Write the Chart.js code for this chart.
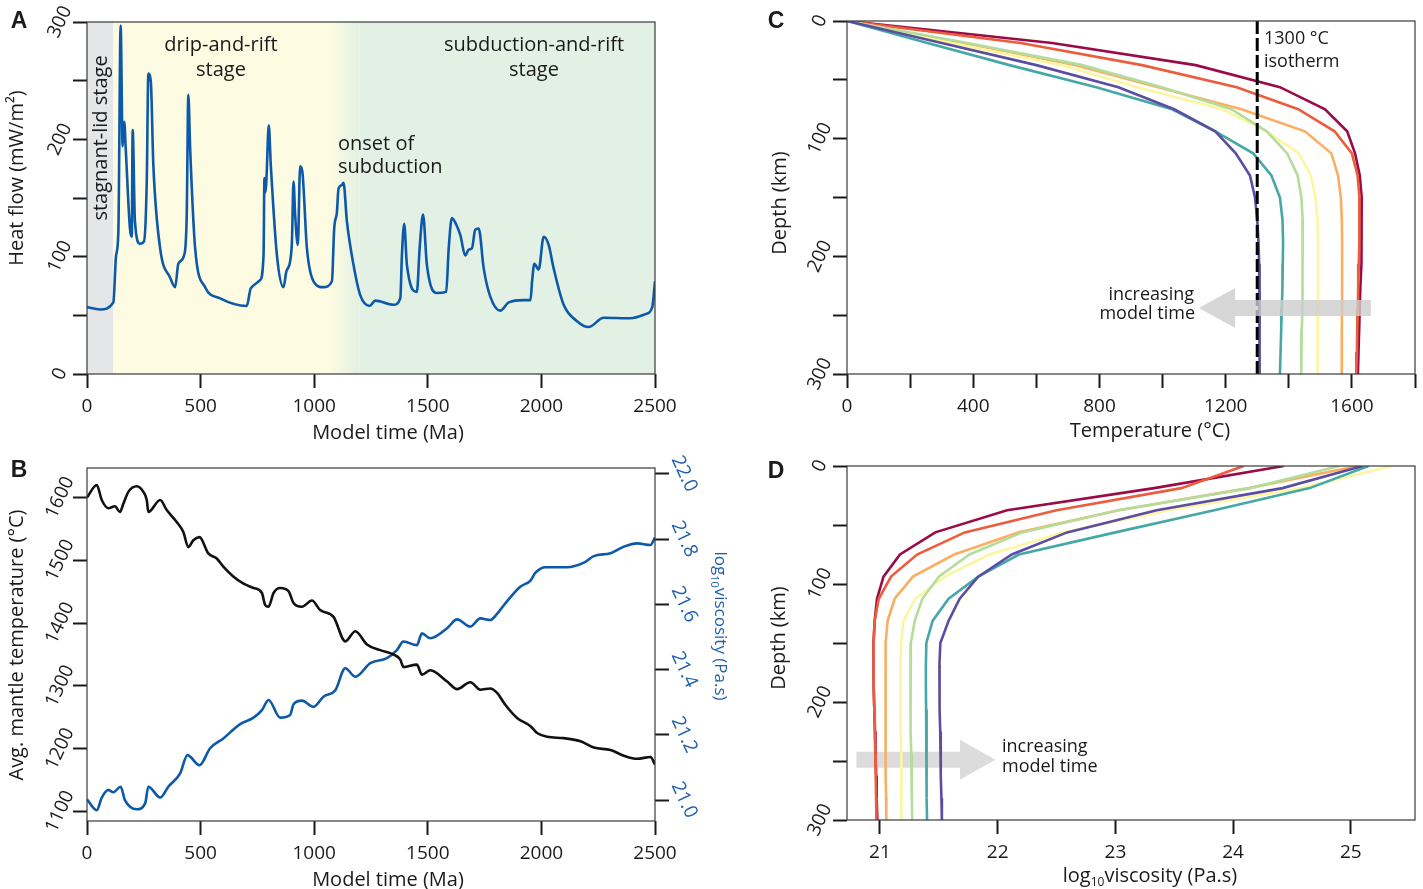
<!DOCTYPE html>
<html>
<head>
<meta charset="utf-8">
<script src="https://cdn.jsdelivr.net/npm/chart.js@4.4.1/dist/chart.umd.min.js"></script>
<style>
  html, body { margin: 0; padding: 0; background: #fff; }
  #wrap { position: relative; width: 1423px; height: 889px; overflow: hidden; }
  canvas { position: absolute; left: 0; top: 0; }
</style>
</head>
<body>
<div id="wrap">
  <canvas id="chartA" width="1423" height="889"></canvas>
  <canvas id="chartB" width="1423" height="889"></canvas>
  <canvas id="chartC" width="1423" height="889"></canvas>
  <canvas id="chartD" width="1423" height="889"></canvas>
</div>
<script>
// ---- panel A: heat flow through model time
var heatTime = [0, 57, 116, 128, 138, 148, 157, 164, 170, 189, 197, 201, 211, 233, 251, 263, 270, 281, 292, 322,
  366, 388, 402, 427, 439, 446, 454, 476, 520, 586, 703, 721, 762, 777, 781, 786, 790, 800, 809, 836,
  865, 877, 894, 902, 909, 916, 928, 938, 948, 968, 997, 1041, 1078, 1088, 1100, 1107, 1122, 1129, 1144, 1173,
  1203, 1244, 1269, 1349, 1379, 1386, 1396, 1408, 1452, 1464, 1479, 1496, 1540, 1581, 1592, 1606, 1626, 1643, 1665, 1680,
  1694, 1709, 1724, 1746, 1775, 1819, 1856, 1922, 1952, 1959, 1969, 1988, 2010, 2032, 2054, 2098, 2157, 2208, 2274, 2392,
  2458, 2488, 2500];
var heatFlow = [57, 55, 61, 101, 121, 297, 194, 215, 194, 124, 117, 208, 130, 111, 113, 164, 256, 249, 178, 107,
  82, 74, 94, 101, 136, 238, 192, 107, 74, 64.5, 58, 73, 80, 101, 167, 155, 167, 212, 178, 101,
  74, 87, 96, 113, 164, 136, 110, 177, 172, 107, 79, 74, 79, 124, 138, 158, 161, 163, 130, 93,
  67, 58, 62.5, 59, 64.5, 101, 128, 93, 70, 107, 136, 93, 69, 70, 107, 133, 127, 118.5, 101, 106,
  107, 123, 124, 90, 66, 54, 61, 63, 63, 79, 94, 89, 117, 110, 90, 59, 45, 40, 48, 47.5,
  51, 57, 79];
var stageEdges = [0, 115, 1070, 1200, 2500];
var timeTicks = [0, 500, 1000, 1500, 2000, 2500];
var heatTicks = [0, 50, 100, 150, 200, 250, 300];
var heatLabels = [0, 100, 200, 300];

// ---- panel B: mantle temperature and viscosity
var tempTime = [0, 43, 65, 94, 123, 145, 160, 182, 219, 248, 263, 270, 322, 351, 395, 424, 446, 468, 495, 534,
  571, 600, 645, 689, 733, 770, 784, 799, 821, 850, 887, 909, 946, 990, 1026, 1085, 1137, 1181, 1232, 1291,
  1350, 1379, 1393, 1452, 1474, 1511, 1585, 1629, 1687, 1731, 1775, 1805, 1841, 1893, 1952, 1981, 2025, 2098, 2172, 2231,
  2304, 2363, 2422, 2480, 2500];
var mantleTemp = [1600, 1620, 1596, 1583, 1586, 1577, 1590, 1609, 1618, 1609, 1596, 1577, 1596, 1580, 1561, 1545, 1521, 1532, 1537, 1511,
  1503, 1490, 1474, 1463, 1456, 1448, 1429, 1426, 1448, 1456, 1451, 1432, 1426, 1436, 1421, 1410, 1371, 1387, 1366, 1357,
  1350, 1342, 1330, 1334, 1318, 1325, 1307, 1295, 1306, 1294, 1296, 1289, 1270, 1249, 1236, 1225, 1219, 1217, 1212, 1202,
  1198, 1189, 1184, 1187, 1175];
var viscTime = [0, 43, 65, 94, 116, 148, 167, 219, 256, 270, 322, 358, 410, 442, 495, 542, 600, 674, 733, 770,
  799, 850, 894, 909, 946, 997, 1041, 1093, 1137, 1181, 1247, 1320, 1364, 1393, 1452, 1474, 1511, 1585, 1629, 1687,
  1731, 1775, 1805, 1841, 1907, 1952, 1974, 2018, 2113, 2187, 2231, 2304, 2363, 2422, 2480, 2500];
var logViscosity = [21.002, 20.969, 21.008, 21.031, 21.024, 21.041, 21.0, 20.972, 20.99, 21.041, 21.008, 21.041, 21.082, 21.138, 21.107, 21.159, 21.189, 21.233, 21.253, 21.276,
  21.307, 21.253, 21.261, 21.294, 21.305, 21.286, 21.317, 21.337, 21.404, 21.378, 21.42, 21.435, 21.46, 21.486, 21.475, 21.511, 21.496, 21.527, 21.554, 21.532,
  21.557, 21.552, 21.571, 21.603, 21.654, 21.673, 21.697, 21.714, 21.714, 21.728, 21.748, 21.757, 21.777, 21.787, 21.782, 21.805];
var tempTicks = [1100, 1200, 1300, 1400, 1500, 1600];
var viscTicks = [21.0, 21.2, 21.4, 21.6, 21.8, 22.0];

// ---- panels C and D: profiles at successive model times (earliest first)
var profileDepth = [0, 18.75, 37.5, 56.25, 75, 93.75, 112.5, 131.25, 150, 168.75, 187.5, 206.25, 225, 243.75, 262.5, 281.25, 300];
var profileColors = ['#9b0b48', '#ec5c3d', '#fbad60', '#fcf6a2', '#b4dd9c', '#45a8a6', '#5b4ea2'];
var tempProfiles = [
  [0, 650, 1105, 1372, 1515, 1585, 1610, 1625, 1631, 1632, 1630, 1629, 1627, 1625, 1623, 1621, 1619],
  [0, 550, 935, 1235, 1430, 1545, 1600, 1618, 1624, 1624, 1623, 1622, 1620, 1619, 1617, 1616, 1614],
  [0, 370, 725, 986, 1250, 1451, 1535, 1556, 1565, 1568, 1569, 1569, 1569, 1569, 1568, 1568, 1568],
  [0, 330, 680, 920, 1190, 1330, 1432, 1470, 1485, 1491, 1493, 1493, 1493, 1492, 1492, 1491, 1491],
  [0, 382, 745, 998, 1218, 1330, 1395, 1428, 1440, 1444, 1445, 1444, 1443, 1442, 1441, 1440, 1439],
  [0, 255, 515, 790, 1030, 1167, 1287, 1345, 1372, 1380, 1382, 1381, 1380, 1378, 1376, 1374, 1372],
  [0, 300, 600, 860, 1037, 1167, 1232, 1277, 1293, 1300, 1304, 1306, 1307, 1308, 1308, 1308, 1307]
];
var viscProfiles = [
  [24.43, 23.33, 22.08, 21.47, 21.17, 21.03, 20.975, 20.955, 20.945, 20.945, 20.948, 20.952, 20.958, 20.962, 20.968, 20.972, 20.978],
  [24.09, 23.56, 22.5, 21.72, 21.315, 21.094, 20.99, 20.955, 20.946, 20.946, 20.948, 20.952, 20.956, 20.96, 20.964, 20.967, 20.97],
  [25.06, 24.13, 23.03, 22.18, 21.63, 21.28, 21.125, 21.065, 21.048, 21.046, 21.046, 21.047, 21.048, 21.05, 21.051, 21.052, 21.054],
  [25.35, 24.58, 23.45, 22.56, 21.93, 21.55, 21.3, 21.2, 21.18, 21.175, 21.175, 21.177, 21.178, 21.18, 21.181, 21.182, 21.183],
  [24.9, 24.15, 23.02, 22.21, 21.76, 21.5, 21.36, 21.295, 21.262, 21.258, 21.258, 21.26, 21.263, 21.266, 21.269, 21.272, 21.274],
  [25.15, 24.65, 23.84, 23.0, 22.18, 21.835, 21.583, 21.447, 21.394, 21.39, 21.39, 21.392, 21.394, 21.396, 21.397, 21.398, 21.4],
  [25.1, 24.42, 23.35, 22.59, 22.12, 21.835, 21.677, 21.583, 21.513, 21.505, 21.505, 21.508, 21.512, 21.515, 21.518, 21.522, 21.526]
];
var isothermTemp = [1300, 1300];
var isothermDepth = [0, 300];
var depthTicks = [0, 50, 100, 150, 200, 250, 300];
var depthLabels = [0, 100, 200, 300];
var tempAxisTicks = [0, 200, 400, 600, 800, 1000, 1200, 1400, 1600, 1800];
var tempAxisLabels = [0, 400, 800, 1200, 1600];
var viscAxisTicks = [21, 22, 23, 24, 25];

var W = 1423, H = 889;
var XAXIS_H = 60;
var FONT = "'Open Sans', sans-serif";
var INK = '#1a1a1a';
var BLUE = '#0b59a8';
var LABEL_BLUE = '#1d5fab';

Chart.defaults.font.family = FONT;
Chart.defaults.font.size = 19;
Chart.defaults.color = INK;

function pts(xs, ys) {
  return xs.map(function (x, i) { return { x: x, y: ys[i] }; });
}

function setTicks(values) {
  return function (scale) {
    scale.ticks = values.map(function (v) { return { value: v }; });
  };
}

function xAxis(min, max, ticks, labels) {
  return {
    type: 'linear', min: min, max: max,
    afterBuildTicks: setTicks(ticks),
    afterFit: function (s) { s.height = XAXIS_H; },
    border: { display: false },
    grid: { drawOnChartArea: false, tickLength: 14, tickWidth: 2, tickColor: INK },
    ticks: {
      autoSkip: false, maxRotation: 0, minRotation: 0, padding: 7, color: INK,
      callback: function (v) { return labels.indexOf(v) >= 0 ? String(v) : ''; }
    }
  };
}

function yAxis(min, max, ticks, position, reverse) {
  return {
    type: 'linear', position: position || 'left', min: min, max: max, reverse: !!reverse,
    afterBuildTicks: setTicks(ticks),
    afterFit: function (s) { s.width = 30; },
    border: { display: false },
    grid: { drawOnChartArea: false, tickLength: 14, tickWidth: 2, tickColor: INK },
    ticks: { display: false }
  };
}

function options(area, scales, rightW) {
  return {
    responsive: false, animation: false, events: [],
    layout: { padding: { left: area[0] - 30, top: area[1], right: W - area[2] - (rightW || 0), bottom: H - area[3] - XAXIS_H } },
    plugins: { legend: { display: false }, tooltip: { enabled: false } },
    scales: scales
  };
}

function txt(ctx, s, x, y, o) {
  o = o || {};
  ctx.save();
  ctx.translate(x, y);
  if (o.rot) ctx.rotate(o.rot * Math.PI / 180);
  ctx.font = (o.weight || 'normal') + ' ' + (o.size || 20) + 'px ' + (o.family || FONT);
  ctx.fillStyle = o.color || INK;
  ctx.textAlign = o.align || 'center';
  ctx.textBaseline = 'middle';
  ctx.fillText(s, 0, 0);
  ctx.restore();
}

// text with a subscript part, e.g. log10
function richTxt(ctx, parts, x, y, o) {
  o = o || {};
  var size = o.size || 20;
  var big = size + 'px ' + FONT, small = Math.round(size * 0.62) + 'px ' + FONT;
  ctx.save();
  ctx.translate(x, y);
  if (o.rot) ctx.rotate(o.rot * Math.PI / 180);
  ctx.fillStyle = o.color || INK;
  ctx.textBaseline = 'middle';
  ctx.textAlign = 'left';
  var total = 0;
  parts.forEach(function (p) { ctx.font = p[1] ? small : big; total += ctx.measureText(p[0]).width; });
  var cx = -total / 2;
  parts.forEach(function (p) {
    ctx.font = p[1] ? small : big;
    ctx.fillText(p[0], cx, p[1] ? size * 0.32 : 0);
    cx += ctx.measureText(p[0]).width;
  });
  ctx.restore();
}

function yLabels(chart, id, values, fmt, x, rot, color) {
  var sc = chart.scales[id];
  values.forEach(function (v) {
    txt(chart.ctx, fmt(v), x, sc.getPixelForValue(v), { rot: rot, color: color, size: 19 });
  });
}

function frame(chart) {
  var a = chart.chartArea, ctx = chart.ctx;
  ctx.save();
  ctx.strokeStyle = '#3a3a3a';
  ctx.lineWidth = 1.2;
  ctx.strokeRect(a.left, a.top, a.right - a.left, a.bottom - a.top);
  ctx.restore();
}

function arrow(ctx, xTail, xBase, xTip, y, shaftHalf, headHalf, fill) {
  ctx.save();
  ctx.fillStyle = fill;
  ctx.beginPath();
  ctx.moveTo(xTail, y - shaftHalf);
  ctx.lineTo(xBase, y - shaftHalf);
  ctx.lineTo(xBase, y - headHalf);
  ctx.lineTo(xTip, y);
  ctx.lineTo(xBase, y + headHalf);
  ctx.lineTo(xBase, y + shaftHalf);
  ctx.lineTo(xTail, y + shaftHalf);
  ctx.closePath();
  ctx.fill();
  ctx.restore();
}

function letter(ctx, s, x, y) {
  txt(ctx, s, x, y, { size: 23, weight: 'bold', family: "'Liberation Sans', Arial, sans-serif" });
}

// ---------------- Panel A
new Chart(document.getElementById('chartA'), {
  type: 'line',
  data: {
    datasets: [{
      data: pts(heatTime, heatFlow), borderColor: BLUE, borderWidth: 2.6,
      pointRadius: 0, cubicInterpolationMode: 'monotone', fill: false
    }]
  },
  options: options([87, 22, 655, 374], {
    x: xAxis(0, 2500, timeTicks, timeTicks),
    y: yAxis(0, 300, heatTicks)
  }),
  plugins: [{
    id: 'stagesA',
    beforeDatasetsDraw: function (chart) {
      var ctx = chart.ctx, a = chart.chartArea, xs = chart.scales.x;
      var px = stageEdges.map(function (v) { return xs.getPixelForValue(v); });
      var h = a.bottom - a.top;
      ctx.save();
      ctx.fillStyle = '#e5e6e8';
      ctx.fillRect(px[0], a.top, px[1] - px[0], h);
      ctx.fillStyle = '#fdfbe1';
      ctx.fillRect(px[1], a.top, px[2] - px[1], h);
      var g = ctx.createLinearGradient(px[2], 0, px[3], 0);
      g.addColorStop(0, '#fdfbe1');
      g.addColorStop(1, '#e3f0e4');
      ctx.fillStyle = g;
      ctx.fillRect(px[2], a.top, px[3] - px[2], h);
      ctx.fillStyle = '#e3f0e4';
      ctx.fillRect(px[3], a.top, px[4] - px[3], h);
      ctx.restore();
    },
    afterDraw: function (chart) {
      var ctx = chart.ctx;
      frame(chart);
      letter(ctx, 'A', 19, 22);
      yLabels(chart, 'y', heatLabels, String, 60, -65);
      txt(ctx, 'Heat flow (mW/m\u00b2)', 17, 178, { rot: -90 });
      txt(ctx, 'Model time (Ma)', 388, 433);
      txt(ctx, 'stagnant-lid stage', 101, 138, { rot: -90 });
      txt(ctx, 'drip-and-rift', 221, 45);
      txt(ctx, 'stage', 221, 70);
      txt(ctx, 'onset of', 338, 144, { align: 'left' });
      txt(ctx, 'subduction', 338, 167, { align: 'left' });
      txt(ctx, 'subduction-and-rift', 534, 45);
      txt(ctx, 'stage', 534, 70);
    }
  }]
});

// ---------------- Panel B
new Chart(document.getElementById('chartB'), {
  type: 'line',
  data: {
    datasets: [
      { data: pts(tempTime, mantleTemp), yAxisID: 'y', borderColor: '#111', borderWidth: 2.6,
        pointRadius: 0, cubicInterpolationMode: 'monotone', fill: false },
      { data: pts(viscTime, logViscosity), yAxisID: 'y1', borderColor: BLUE, borderWidth: 2.6,
        pointRadius: 0, cubicInterpolationMode: 'monotone', fill: false }
    ]
  },
  options: options([87, 468, 655, 821], {
    x: xAxis(0, 2500, timeTicks, timeTicks),
    y: yAxis(1085, 1647, tempTicks),
    y1: yAxis(20.936, 22.018, viscTicks, 'right')
  }, 30),
  plugins: [{
    id: 'decorB',
    afterDraw: function (chart) {
      var ctx = chart.ctx;
      frame(chart);
      letter(ctx, 'B', 19, 471);
      yLabels(chart, 'y', tempTicks, String, 60, -65);
      yLabels(chart, 'y1', viscTicks, function (v) { return v.toFixed(1); }, 684, 65, LABEL_BLUE);
      txt(ctx, 'Avg. mantle temperature (\u00b0C)', 17, 645, { rot: -90 });
      txt(ctx, 'Model time (Ma)', 388, 880);
      richTxt(ctx, [['log', 0], ['10', 1], ['viscosity (Pa.s)', 0]], 720, 626, { rot: 90, size: 17, color: LABEL_BLUE });
    }
  }]
});

// ---------------- Panel C
var cSets = tempProfiles.map(function (p, i) {
  return { data: pts(p, profileDepth), borderColor: profileColors[i], borderWidth: 2.6,
    pointRadius: 0, fill: false, tension: 0, order: 10 - i };
});
cSets.push({ data: pts(isothermTemp, isothermDepth), borderColor: '#000', borderWidth: 3,
  borderDash: [13, 4], pointRadius: 0, fill: false, order: 0 });

new Chart(document.getElementById('chartC'), {
  type: 'line',
  data: { datasets: cSets },
  options: options([847, 21, 1415, 374], {
    x: xAxis(0, 1800, tempAxisTicks, tempAxisLabels),
    y: yAxis(0, 300, depthTicks, 'left', true)
  }),
  plugins: [{
    id: 'decorC',
    afterDatasetsDraw: function (chart) {
      var xs = chart.scales.x, ys = chart.scales.y;
      arrow(chart.ctx, xs.getPixelForValue(1660), xs.getPixelForValue(1230), xs.getPixelForValue(1115),
        ys.getPixelForValue(244), 8, 20, 'rgba(205,205,205,0.8)');
    },
    afterDraw: function (chart) {
      var ctx = chart.ctx;
      frame(chart);
      letter(ctx, 'C', 776, 22);
      yLabels(chart, 'y', depthLabels, String, 820, -65);
      txt(ctx, 'Depth (km)', 780, 203, { rot: -90 });
      txt(ctx, 'Temperature (\u00b0C)', 1150, 431);
      txt(ctx, '1300 \u00b0C', 1264, 39, { align: 'left', size: 18 });
      txt(ctx, 'isotherm', 1264, 62, { align: 'left', size: 18 });
      txt(ctx, 'increasing', 1194, 295, { align: 'right', size: 18 });
      txt(ctx, 'model time', 1195, 314, { align: 'right', size: 18 });
    }
  }]
});

// ---------------- Panel D
var dSets = viscProfiles.map(function (p, i) {
  return { data: pts(p, profileDepth), borderColor: profileColors[i], borderWidth: 2.6,
    pointRadius: 0, fill: false, tension: 0, order: 10 - i };
});

new Chart(document.getElementById('chartD'), {
  type: 'line',
  data: { datasets: dSets },
  options: options([847, 466, 1415, 820], {
    x: xAxis(20.72, 25.545, viscAxisTicks, viscAxisTicks),
    y: yAxis(0, 300, depthTicks, 'left', true)
  }),
  plugins: [{
    id: 'decorD',
    beforeDatasetsDraw: function (chart) {
      var xs = chart.scales.x, ys = chart.scales.y;
      arrow(chart.ctx, xs.getPixelForValue(20.80), xs.getPixelForValue(21.68), xs.getPixelForValue(21.98),
        ys.getPixelForValue(249), 8, 20, '#dcdcdc');
    },
    afterDraw: function (chart) {
      var ctx = chart.ctx;
      frame(chart);
      letter(ctx, 'D', 776, 472);
      yLabels(chart, 'y', depthLabels, String, 820, -65);
      txt(ctx, 'Depth (km)', 779, 638, { rot: -90 });
      richTxt(ctx, [['log', 0], ['10', 1], ['viscosity (Pa.s)', 0]], 1150, 876, { size: 20 });
      txt(ctx, 'increasing', 1002, 747, { align: 'left', size: 18 });
      txt(ctx, 'model time', 1002, 767, { align: 'left', size: 18 });
    }
  }]
});
</script>
</body>
</html>
